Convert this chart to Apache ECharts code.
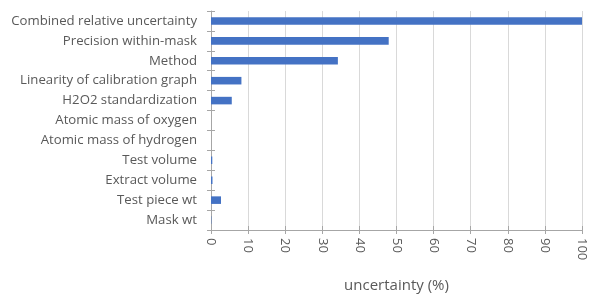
<!DOCTYPE html>
<html>
<head>
<meta charset="utf-8">
<script src="https://cdn.jsdelivr.net/npm/echarts@6/dist/echarts.min.js"></script>
<style>
  html, body { margin: 0; padding: 0; background: #fff; }
  #chart { width: 589px; height: 298px; }
</style>
</head>
<body>
<div id="chart"></div>
<script>
// categories listed bottom to top (category axis starts at the bottom)
const categories = [
  'Mask wt',
  'Test piece wt',
  'Extract volume',
  'Test volume',
  'Atomic mass of hydrogen',
  'Atomic mass of oxygen',
  'H2O2 standardization',
  'Linearity of calibration graph',
  'Method',
  'Precision within-mask',
  'Combined relative uncertainty'
]
const uncertainty = [0.1, 2.7, 0.4, 0.35, 0, 0, 5.6, 8.2, 34.2, 47.9, 100]
const xTicks = [0, 10, 20, 30, 40, 50, 60, 70, 80, 90, 100]

const chart = echarts.init(document.getElementById('chart'))
const font = 'Open Sans'
const grey = '#595959'

chart.setOption({
  animation: false,
  grid: { left: 211, right: 7, top: 11, bottom: 53 },
  xAxis: [{
    type: 'value',
    min: xTicks[0],
    max: xTicks[xTicks.length - 1],
    interval: 10,
    name: 'uncertainty (%)',
    nameLocation: 'middle',
    nameGap: 48,
    nameTextStyle: { color: grey, fontFamily: font, fontSize: 15 },
    axisLine: { show: true, lineStyle: { color: '#a6a6a6', width: 1 } },
    axisTick: { show: true, length: 4, lineStyle: { color: '#a6a6a6' } },
    axisLabel: { rotate: -90, color: grey, fontFamily: font, fontSize: 13, margin: 8 },
    splitLine: { show: true, lineStyle: { color: '#d9d9d9', width: 1 } }
  }, {
    // second copy only draws the inner half of the crossing ticks
    type: 'value',
    position: 'bottom',
    min: xTicks[0],
    max: xTicks[xTicks.length - 1],
    interval: 10,
    axisLine: { show: false },
    axisTick: { show: true, inside: true, length: 4, lineStyle: { color: '#a6a6a6' } },
    axisLabel: { show: false },
    splitLine: { show: false }
  }],
  yAxis: [{
    type: 'category',
    data: categories,
    axisLine: { show: true, lineStyle: { color: '#a6a6a6', width: 1 } },
    axisTick: { show: true, length: 4, lineStyle: { color: '#a6a6a6' } },
    axisLabel: { color: grey, fontFamily: font, fontSize: 13.2, margin: 14 },
    splitLine: { show: false }
  }, {
    type: 'category',
    position: 'left',
    data: categories,
    axisLine: { show: false },
    axisTick: { show: true, inside: true, length: 4, lineStyle: { color: '#a6a6a6' } },
    axisLabel: { show: false }
  }],
  series: [{
    type: 'bar',
    data: uncertainty,
    barCategoryGap: '62%',
    itemStyle: { color: '#4472c4' }
  }]
})
</script>
</body>
</html>
